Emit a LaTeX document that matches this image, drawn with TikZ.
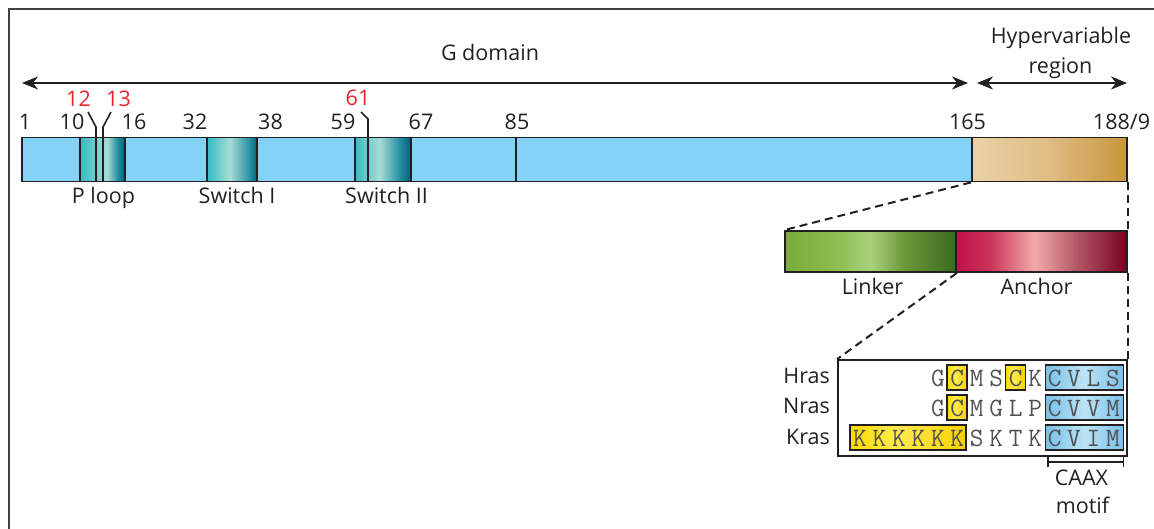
\documentclass[tikz,border=0pt]{standalone}
\usepackage{fontspec}
\setmainfont{Open Sans}
\usetikzlibrary{arrows.meta}

% palette
\definecolor{ink}{HTML}{231F20}
\definecolor{mutred}{HTML}{E8262A}
\definecolor{gdom}{HTML}{84D2F5}
\definecolor{seqgrey}{HTML}{505153}
% teal regions
\definecolor{tealA}{HTML}{34BCC6}
\definecolor{tealB}{HTML}{6CC9C9}
\definecolor{tealL}{HTML}{A8DCD5}
\definecolor{tealM}{HTML}{2A93A5}
\definecolor{tealD}{HTML}{005F78}
% hypervariable region
\definecolor{hvrA}{HTML}{EAD2A6}
\definecolor{hvrB}{HTML}{DFBC83}
\definecolor{hvrC}{HTML}{C8963C}
% linker / anchor
\definecolor{lnkA}{HTML}{79AD3A}
\definecolor{lnkB}{HTML}{8CBD4F}
\definecolor{lnkL}{HTML}{AAD27B}
\definecolor{lnkM}{HTML}{6B983B}
\definecolor{lnkD}{HTML}{3A691D}
\definecolor{ancA}{HTML}{C01149}
\definecolor{ancB}{HTML}{CB3459}
\definecolor{ancL}{HTML}{F2AAAA}
\definecolor{ancM}{HTML}{B35A68}
\definecolor{ancD}{HTML}{780023}
% highlight boxes
\definecolor{yelA}{HTML}{FBDA00}
\definecolor{yelL}{HTML}{FFEB50}
\definecolor{yelD}{HTML}{F7D000}
\definecolor{bluA}{HTML}{78C1E9}
\definecolor{bluL}{HTML}{BCE3F7}

% horizontal shadings: the shaded shape spans 25bp..75bp
\pgfdeclarehorizontalshading{ploopsh}{100bp}{color(0bp)=(tealA); color(25bp)=(tealA); color(40bp)=(tealB); color(55bp)=(tealL); color(66bp)=(tealM); color(75bp)=(tealD); color(100bp)=(tealD)}
\pgfdeclarehorizontalshading{swish}{100bp}{color(0bp)=(tealA); color(25bp)=(tealA); color(48bp)=(tealL); color(67bp)=(tealM); color(75bp)=(tealD); color(100bp)=(tealD)}
\pgfdeclarehorizontalshading{swiish}{100bp}{color(0bp)=(tealA); color(25bp)=(tealA); color(35bp)=(tealB); color(47bp)=(tealL); color(64bp)=(tealM); color(75bp)=(tealD); color(100bp)=(tealD)}
\pgfdeclarehorizontalshading{hvrsh}{100bp}{color(0bp)=(hvrA); color(25bp)=(hvrA); color(50bp)=(hvrB); color(75bp)=(hvrC); color(100bp)=(hvrC)}
\pgfdeclarehorizontalshading{lnksh}{100bp}{color(0bp)=(lnkA); color(25bp)=(lnkA); color(40bp)=(lnkB); color(50bp)=(lnkL); color(60bp)=(lnkM); color(75bp)=(lnkD); color(100bp)=(lnkD)}
\pgfdeclarehorizontalshading{ancsh}{100bp}{color(0bp)=(ancA); color(25bp)=(ancA); color(35bp)=(ancB); color(48bp)=(ancL); color(60bp)=(ancM); color(75bp)=(ancD); color(100bp)=(ancD)}
\pgfdeclarehorizontalshading{yelsh}{100bp}{color(0bp)=(yelA); color(25bp)=(yelA); color(45bp)=(yelL); color(75bp)=(yelD); color(100bp)=(yelD)}
\pgfdeclarehorizontalshading{blush}{100bp}{color(0bp)=(bluA); color(25bp)=(bluA); color(50bp)=(bluL); color(75bp)=(bluA); color(100bp)=(bluA)}

\begin{document}
\begin{tikzpicture}[x=1pt,y=-1pt,
  font=\fontsize{21.5}{25}\selectfont, text=ink,
  bar/.style={draw=ink, line width=1.8pt, inner sep=0pt, minimum height=44pt},
  subbar/.style={draw=ink, line width=1.8pt, inner sep=0pt, minimum height=41pt},
  lbl/.style={anchor=base, inner sep=0pt},
  mut/.style={anchor=base, inner sep=0pt, text=mutred},
  seqch/.style={anchor=base, inner sep=0pt, text=seqgrey, font=\ttfamily\fontsize{26.5}{29}\selectfont},
  hl/.style={draw=ink, line width=1.6pt, inner sep=0pt, minimum height=25pt, shade},
  span/.style={line width=2pt, draw=ink, {Stealth[length=16pt,width=13pt,inset=5pt]}-{Stealth[length=16pt,width=13pt,inset=5pt]}},
  zoomline/.style={draw=ink, line width=2pt, dash pattern=on 8pt off 5pt},
  tick/.style={draw=ink, line width=1.6pt}]

\useasboundingbox (0,0) rectangle (1154,529);
\clip (0,0) rectangle (1154,529);

% outer frame
\draw[draw=ink!85, line width=2.4pt] (9,540) -- (9,9) -- (1170,9);

% domain spans
\coordinate (gL) at (22,83);
\coordinate (gR) at (968,83);
\coordinate (hL) at (977,83);
\coordinate (hR) at (1127,83);
\draw[span] (gL) -- (gR);
\draw[span] (hL) -- (hR);
\node[lbl] (tg) at (490,61) {G domain};
\node[lbl] (th1) at (1061,44) {Hypervariable};
\node[lbl] (th2) at (1060.5,74) {region};

% full-length protein bar
\node[bar, fill=gdom, minimum width=950pt] (gdomain) at (497,159.5) {};
\node[bar, shade, shading=ploopsh, minimum width=45pt] (ploop) at (102.5,159.5) {};
\node[bar, shade, shading=swish, minimum width=50pt] (swI) at (232,159.5) {};
\node[bar, shade, shading=swiish, minimum width=56pt] (swII) at (383,159.5) {};
\node[bar, shade, shading=hvrsh, minimum width=155pt] (hvr) at (1049.5,159.5) {};
\draw[tick] (516,137.5) -- (516,181.5);

% residue ticks for the hot-spot mutations
\draw[tick] (96,181.5) -- (96,127) -- (88,112);
\draw[tick] (103,181.5) -- (103,127) -- (111,112);
\draw[tick] (368,181.5) -- (368,119) -- (361,112);

% residue numbers
\node[lbl] (r1) at (25,130) {1};
\node[lbl] (r10) at (72,130) {10};
\node[lbl] (r16) at (134,130) {16};
\node[lbl] (r32) at (195,130) {32};
\node[lbl] (r38) at (270.5,130) {38};
\node[lbl] (r59) at (343,130) {59};
\node[lbl] (r67) at (421,130) {67};
\node[lbl] (r85) at (517,130) {85};
\node[lbl] (r165) at (967.5,130) {165};
\node[lbl] (r188) at (1121.5,130) {188/9};
\node[mut] (m12) at (78.5,106.5) {12};
\node[mut] (m13) at (118.5,106.5) {13};
\node[mut] (m61) at (358,106) {61};

% region names
\node[lbl] (tpl) at (103.5,204) {P loop};
\node[lbl] (tsI) at (237,204) {Switch I};
\node[lbl] (tsII) at (386.5,204) {Switch II};

% hypervariable region, expanded
\node[subbar, shade, shading=lnksh, minimum width=171pt] (lnk) at (870.5,251.5) {};
\node[subbar, shade, shading=ancsh, minimum width=171pt] (anc) at (1041.5,251.5) {};
\node[lbl] (tlnk) at (872.5,295) {Linker};
\node[lbl] (tanc) at (1036.5,295) {Anchor};
\draw[zoomline] (hvr.south west) -- (lnk.north west);
\draw[zoomline] (hvr.south east) -- (anc.north east);

% C-terminal sequences
\node[draw=ink, line width=1.8pt, fill=white, inner sep=0pt, minimum width=289pt, minimum height=96pt] (seq) at (982.5,408) {};
\draw[zoomline] (lnk.south east) -- (seq.north west);
\draw[zoomline] (anc.south east) -- (seq.north east);

% highlighted residues
\node[hl, shading=yelsh, minimum width=20pt] (hC1) at (957,377.5) {};
\node[hl, shading=yelsh, minimum width=20pt] (hC2) at (1015.5,377.5) {};
\node[hl, shading=yelsh, minimum width=20pt] (nC1) at (957,407.5) {};
\node[hl, shading=yelsh, minimum width=116pt] (kK) at (908,437.5) {};
\node[hl, shading=blush, minimum width=78pt] (hcaax) at (1084.5,377.5) {};
\node[hl, shading=blush, minimum width=78pt] (ncaax) at (1084.5,407.5) {};
\node[hl, shading=blush, minimum width=78pt] (kcaax) at (1084.5,437.5) {};

\foreach \c/\l in {4/G,5/C,6/M,7/S,8/C,9/K,10/C,11/V,12/L,13/S}
  \node[seqch] (h\c) at ({860+19.46*\c},386.5) {\l};
\foreach \c/\l in {4/G,5/C,6/M,7/G,8/L,9/P,10/C,11/V,12/V,13/M}
  \node[seqch] (n\c) at ({860+19.46*\c},416.5) {\l};
\foreach \c/\l in {0/K,1/K,2/K,3/K,4/K,5/K,6/S,7/K,8/T,9/K,10/C,11/V,12/I,13/M}
  \node[seqch] (k\c) at ({860+19.46*\c},446.5) {\l};

\node[lbl, anchor=base east] (tH) at (830,383) {Hras};
\node[lbl, anchor=base east] (tN) at (830,413) {Nras};
\node[lbl, anchor=base east] (tK) at (830,444) {Kras};

% CAAX bracket
\coordinate (bL) at (1047.7,462);
\coordinate (bR) at (1123.3,462);
\draw[tick] (bL) -- (bR);
\draw[tick] ([yshift=-5pt]bL) -- ([yshift=5pt]bL);
\draw[tick] ([yshift=-5pt]bR) -- ([yshift=5pt]bR);
\node[lbl] (tc1) at (1081.5,485) {CAAX};
\node[lbl] (tc2) at (1082.5,513) {motif};
\end{tikzpicture}
\end{document}
